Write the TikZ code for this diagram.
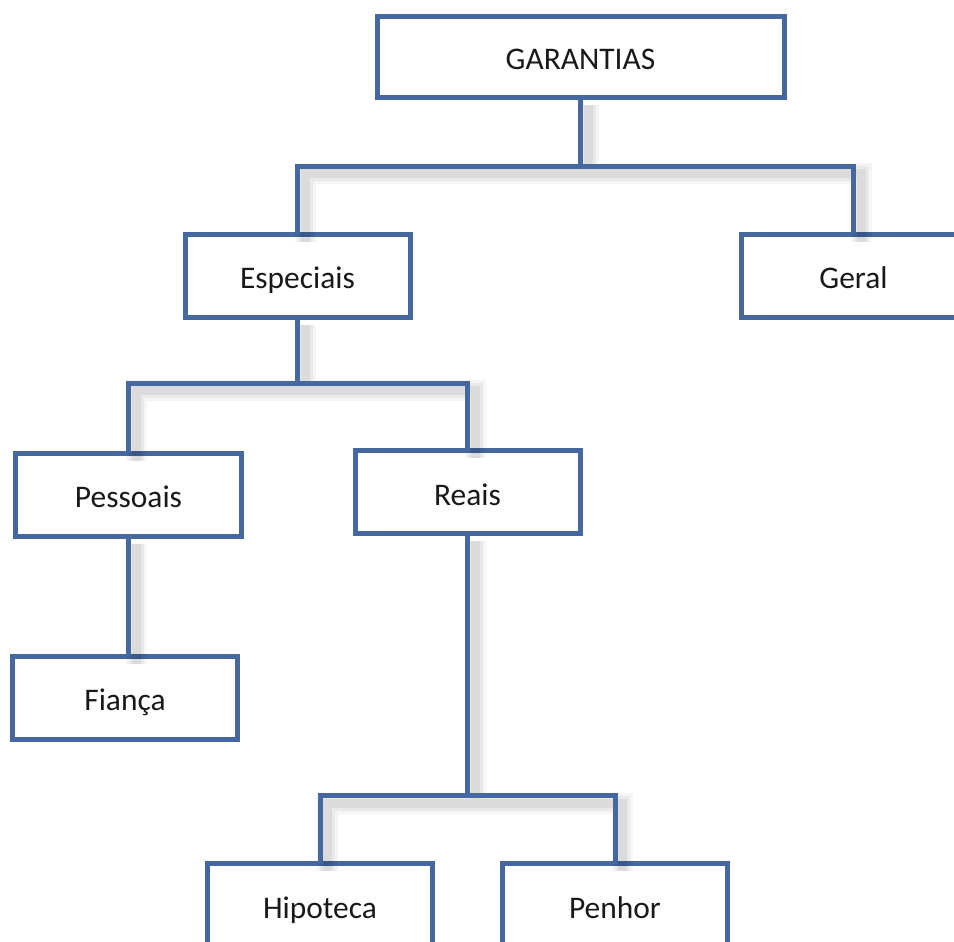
\documentclass[tikz,border=0pt]{standalone}
\usepackage{fontspec}
\setmainfont{Carlito}
\usepackage{tikz}
\usetikzlibrary{positioning}
\definecolor{GarBlue}{RGB}{69,104,160}
\tikzstyle{TopicNode}=[rectangle, draw=GarBlue, line width=0.1cm, fill=white, outer sep=0pt, minimum width=4.5cm, minimum height=1.66cm, text=black!90, text height=16pt, text depth=1.1pt, font=\fontsize{17.9}{21}\selectfont]
\tikzstyle{LinkLine}=[draw=GarBlue, line width=0.1cm,
  preaction={draw=black, draw opacity=0.04, line width=0.42cm, transform canvas={shift={(0.15cm,-0.15cm)}}},
  preaction={draw=black, draw opacity=0.05, line width=0.30cm, transform canvas={shift={(0.15cm,-0.15cm)}}},
  preaction={draw=black, draw opacity=0.06, line width=0.18cm, transform canvas={shift={(0.15cm,-0.15cm)}}}]

\begin{document}
\begin{tikzpicture}
    \useasboundingbox (0,0) rectangle (19.08,-18.82);
    \clip (0,0) rectangle (19.08,-18.82);

    \node (garantias) [TopicNode, minimum width=8.14cm, minimum height=1.62cm] at (11.61,-1.13) {GARANTIAS};
    \node (especiais) [TopicNode, below=2.74cm of garantias, xshift=-5.66cm] {Especiais};
    \node (geral) [TopicNode, right=6.62cm of especiais] {Geral};
    \node (pessoais) [TopicNode, below=2.72cm of especiais, xshift=-3.38cm] {Pessoais};
    \node (reais) [TopicNode, right=2.28cm of pessoais, yshift=0.05cm] {Reais};
    \node (fianca) [TopicNode, below=2.4cm of pessoais, xshift=-0.07cm] {Fiança};
    \node (hipoteca) [TopicNode, below=6.6cm of reais, xshift=-2.95cm] {Hipoteca};
    \node (penhor) [TopicNode, right=1.4cm of hipoteca] {Penhor};

    \coordinate (fork1) at ([yshift=-1.38cm]garantias.south);
    \coordinate (fork2) at ([yshift=-1.32cm]especiais.south);
    \coordinate (fork3) at ([yshift=-5.24cm]reais.south);

    \draw [LinkLine] (garantias.south) -- (fork1) (especiais.north) |- (fork1) -| (geral.north);
    \draw [LinkLine] (especiais.south) -- (fork2) (pessoais.north) |- (fork2) -| (reais.north);
    \draw [LinkLine] (pessoais.south) -- (pessoais.south |- fianca.north);
    \draw [LinkLine] (reais.south) -- (fork3) (hipoteca.north) |- (fork3) -| (penhor.north);
  \end{tikzpicture}
\end{document}
